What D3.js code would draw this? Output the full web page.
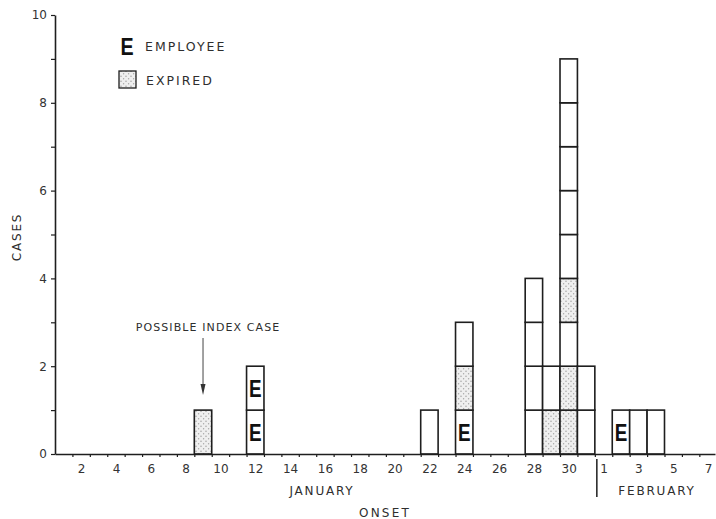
<!DOCTYPE html>
<html>
<head>
<meta charset="utf-8">
<script src="https://cdn.jsdelivr.net/npm/d3@7"></script>
<style>
  html, body { margin: 0; padding: 0; background: #ffffff; }
  svg { display: block; }
  text { font-family: "DejaVu Sans", "Liberation Sans", sans-serif; fill: #2e2e2e; }
</style>
</head>
<body>
<svg id="chart" width="716" height="519"></svg>
<script>
// ---- data ----
// day index: Jan d = d, Feb d = 31 + d
const categories = ["Jan 9","Jan 12","Jan 22","Jan 24","Jan 28","Jan 29","Jan 30","Jan 31","Feb 2","Feb 3","Feb 4"];
const dayIndex   = [9, 12, 22, 24, 28, 29, 30, 31, 33, 34, 35];
// cells from bottom to top: "E" employee, "X" expired, "O" other case
const caseCells = [
  ["X"],
  ["E","E"],
  ["O"],
  ["E","X","O"],
  ["O","O","O","O"],
  ["X","O"],
  ["X","X","O","X","O","O","O","O","O"],
  ["O","O"],
  ["E"],
  ["O"],
  ["O"]
];
const janTickLabels = [2,4,6,8,10,12,14,16,18,20,22,24,26,28,30];
const febTickLabels = [1,3,5,7];
const yTickLabels   = [0,2,4,6,8,10];
const annotationText = "POSSIBLE INDEX CASE";
const annotationDay = 9;

// ---- layout ----
const svg = d3.select("#chart");
const ink = "#1e1e1e";
const x = d3.scaleLinear().domain([0.5, 38.4]).range([55, 715]);
const y = d3.scaleLinear().domain([0, 10]).range([454, 15]);

const defs = svg.append("defs");
const pat = defs.append("pattern").attr("id","stip")
  .attr("patternUnits","userSpaceOnUse").attr("width",5).attr("height",5);
pat.append("rect").attr("width",5).attr("height",5).attr("fill","#efefef");
pat.append("circle").attr("cx",1).attr("cy",1.2).attr("r",0.7).attr("fill","#9a9a9a");
pat.append("circle").attr("cx",3.6).attr("cy",3.7).attr("r",0.7).attr("fill","#a8a8a8");

// ---- bars (stacked cells) ----
const cells = [];
caseCells.forEach((stack, i) => {
  stack.forEach((t, k) => cells.push({day: dayIndex[i], level: k, type: t}));
});
const g = svg.append("g");
g.selectAll("rect.cell").data(cells).join("rect")
  .attr("class","cell")
  .attr("x", d => x(d.day - 0.5))
  .attr("width", d => x(d.day + 0.5) - x(d.day - 0.5))
  .attr("y", d => y(d.level + 1))
  .attr("height", d => y(d.level) - y(d.level + 1))
  .attr("fill", d => d.type === "X" ? "url(#stip)" : "#ffffff")
  .attr("stroke", ink).attr("stroke-width", 1.6);
g.selectAll("text.emp").data(cells.filter(d => d.type === "E")).join("text")
  .attr("class","emp")
  .attr("transform", d => `translate(${x(d.day)},${(y(d.level) + y(d.level + 1)) / 2 + 8.5}) scale(0.82,1)`)
  .attr("text-anchor","middle")
  .style("font-family","'Liberation Sans',Arial,sans-serif")
  .style("font-weight","bold").style("font-size","23px").style("fill","#111")
  .text("E");

// ---- axes ----
const allDays = d3.range(0.5, 38.5, 1).filter(d => d > 0.5);
const xAxis = d3.axisBottom(x).tickValues(allDays).tickSize(3).tickSizeOuter(0).tickFormat("");
const xa = svg.append("g").attr("transform", `translate(0,${y(0)})`).call(xAxis);
xa.select(".domain").attr("stroke", ink).attr("stroke-width", 1.6);
xa.selectAll(".tick line").attr("stroke", ink).attr("stroke-width", 1.2);

const labelDays = janTickLabels.map(d => ({pos: d, txt: d}))
  .concat(febTickLabels.map(d => ({pos: 31 + d, txt: d})));
const xl = svg.append("g").attr("transform", `translate(0,${y(0)})`)
  .call(d3.axisBottom(x).tickValues(labelDays.map(d => d.pos)).tickSize(0)
    .tickFormat((d, i) => labelDays[i].txt));
xl.select(".domain").remove();
xl.selectAll("text").attr("dy", "1.05em").attr("y", 6)
  .style("font-family","'DejaVu Sans',sans-serif").style("font-size","12px").style("fill","#333")
  .attr("font-family", null).attr("font-size", null);

const yAxis = d3.axisLeft(y).ticks(10).tickSize(4).tickSizeOuter(0)
  .tickFormat(d => yTickLabels.includes(d) ? d : "");
const ya = svg.append("g").attr("transform", `translate(${x(0.5)},0)`).call(yAxis);
ya.select(".domain").attr("stroke", ink).attr("stroke-width", 1.6);
ya.selectAll(".tick line").attr("stroke", ink).attr("stroke-width", 1.2);
ya.selectAll("text").attr("x", -8)
  .style("font-family","'DejaVu Sans',sans-serif").style("font-size","12px").style("fill","#333")
  .attr("font-family", null).attr("font-size", null);

// ---- axis titles ----
const lab = (tx, px, py, size, ls) => svg.append("text")
  .attr("x", px).attr("y", py).attr("text-anchor","middle")
  .style("font-size", size + "px").style("letter-spacing", ls + "px").text(tx);
lab("JANUARY", 322, 495, 12, 1.8);
lab("FEBRUARY", 657, 495, 12, 1.8);
lab("ONSET", 385, 517, 12, 2.2);
svg.append("text").attr("transform", "translate(21,237) rotate(-90)")
  .attr("text-anchor","middle").style("font-size","12px").style("letter-spacing","1.8px").text("CASES");

// month separator
svg.append("line").attr("x1", x(31.5) + 2).attr("x2", x(31.5) + 2)
  .attr("y1", y(0) + 5).attr("y2", y(0) + 43).attr("stroke", ink).attr("stroke-width", 1.5);

// ---- annotation ----
svg.append("text").attr("x", 208).attr("y", 331).attr("text-anchor","middle")
  .style("font-size","11px").style("letter-spacing","1.1px").text(annotationText);
const ax = x(annotationDay);
svg.append("line").attr("x1", ax).attr("x2", ax).attr("y1", 338).attr("y2", 386)
  .attr("stroke", "#444").attr("stroke-width", 1);
svg.append("path").attr("d", `M${ax-2.5},384 L${ax+2.5},384 L${ax},395 Z`).attr("fill", "#333");

// ---- legend ----
svg.append("text").attr("transform", "translate(127,55) scale(0.82,1)").attr("text-anchor","middle")
  .style("font-family","'Liberation Sans',Arial,sans-serif")
  .style("font-weight","bold").style("font-size","24px").style("fill","#111").text("E");
svg.append("text").attr("x", 145).attr("y", 51).style("font-size","12.5px")
  .style("letter-spacing","2px").text("EMPLOYEE");
svg.append("rect").attr("x", 119).attr("y", 71).attr("width", 17).attr("height", 17)
  .attr("fill","url(#stip)").attr("stroke", ink).attr("stroke-width", 1.3);
svg.append("text").attr("x", 146).attr("y", 85).style("font-size","12.5px")
  .style("letter-spacing","2px").text("EXPIRED");
</script>
</body>
</html>
